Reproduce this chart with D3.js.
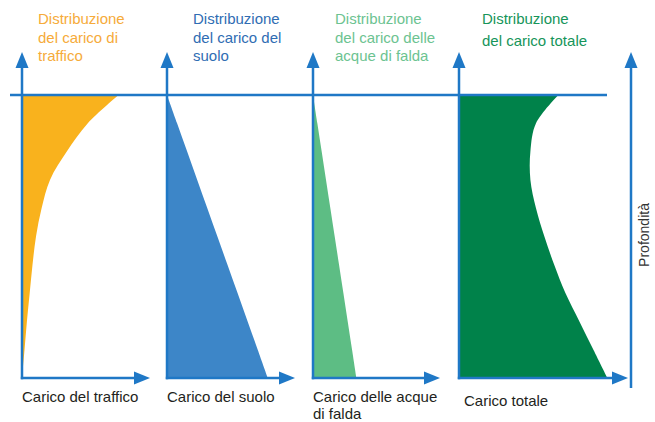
<!DOCTYPE html>
<html>
<head>
<meta charset="utf-8">
<script src="https://cdn.jsdelivr.net/npm/d3@7"></script>
<style>
  body { margin: 0; background: #fff; }
  text { font-family: "Liberation Sans", Arial, sans-serif; }
</style>
</head>
<body>
<svg id="chart" width="655" height="422"></svg>
<script>
// depth as fraction of the total depth (0 = top line, 1 = bottom)
const depth = [0, 0.1, 0.2, 0.3, 0.4, 0.5, 0.6, 0.7, 0.8, 0.9, 1.0];

// load values (relative units) at each depth
const trafficLoad = [69, 47, 32, 20, 14, 10, 7.5, 5.5, 3.5, 1.8, 0];
const soilLoad    = [0, 7.2, 14.4, 21.6, 28.8, 36, 43.2, 50.4, 57.6, 64.8, 72];
const waterLoad   = [0, 3.1, 6.2, 9.3, 12.4, 15.5, 18.6, 21.7, 24.8, 27.9, 31];
const totalLoad   = [71, 55, 51, 51, 55, 61, 68, 76, 86, 96, 106];

const titles = [
  ["Distribuzione", "del carico di", "traffico"],
  ["Distribuzione", "del carico del", "suolo"],
  ["Distribuzione", "del carico delle", "acque di falda"],
  ["Distribuzione", "del carico totale"]
];
const xLabels = [
  ["Carico del traffico"],
  ["Carico del suolo"],
  ["Carico delle acque", "di falda"],
  ["Carico totale"]
];
const depthLabel = "Profondità";

const panels = [
  { load: trafficLoad, fill: "#f9b21d", title: "#f6ab3a", origin: 22,  tip: 150, tx: 38,  ty: 24, lh: 18.5, ly: 402 },
  { load: soilLoad,    fill: "#3d86c8", title: "#2f6db3", origin: 167, tip: 295, tx: 193, ty: 24, lh: 18.5, ly: 402 },
  { load: waterLoad,   fill: "#5dbd84", title: "#6cc391", origin: 313, tip: 440, tx: 335, ty: 24, lh: 18.5, ly: 402 },
  { load: totalLoad,   fill: "#00824a", title: "#16955a", origin: 459, tip: 628, tx: 482, ty: 24, lh: 22,   ly: 406 }
];

const axisColor = "#1f78c6";
const topY = 95, bottomY = 378, arrowTopY = 52;

const svg = d3.select("#chart");
const y = d3.scaleLinear().domain([0, 1]).range([topY, bottomY]);

// filled load distributions
panels.forEach(p => {
  const x = d3.scaleLinear().domain([0, 100]).range([p.origin, p.origin + 140]);
  const area = d3.area()
    .y((d, i) => y(depth[i]))
    .x0(x(0))
    .x1(d => x(d))
    .curve(d3.curveCatmullRom.alpha(0.5));
  svg.append("path")
    .datum(p.load)
    .attr("d", area)
    .attr("fill", p.fill);
});

// top horizontal line
svg.append("line")
  .attr("x1", 10).attr("x2", 607)
  .attr("y1", topY).attr("y2", topY)
  .attr("stroke", axisColor).attr("stroke-width", 2.5);

function upArrow(x0, yTip) {
  svg.append("path")
    .attr("d", `M${x0},${yTip} L${x0 - 6.5},${yTip + 16} L${x0 + 6.5},${yTip + 16} Z`)
    .attr("fill", axisColor);
}
function rightArrow(xTip, y0) {
  svg.append("path")
    .attr("d", `M${xTip},${y0} L${xTip - 16},${y0 - 6.5} L${xTip - 16},${y0 + 6.5} Z`)
    .attr("fill", axisColor);
}

// panel axes
panels.forEach(p => {
  svg.append("line")
    .attr("x1", p.origin).attr("x2", p.origin)
    .attr("y1", bottomY + 1.2).attr("y2", arrowTopY + 12)
    .attr("stroke", axisColor).attr("stroke-width", 2.5);
  upArrow(p.origin, arrowTopY);
  svg.append("line")
    .attr("x1", p.origin - 1.2).attr("x2", p.tip - 12)
    .attr("y1", bottomY).attr("y2", bottomY)
    .attr("stroke", axisColor).attr("stroke-width", 2.5);
  rightArrow(p.tip, bottomY);
});

// depth axis on the right
svg.append("line")
  .attr("x1", 631).attr("x2", 631)
  .attr("y1", 388).attr("y2", arrowTopY + 12)
  .attr("stroke", axisColor).attr("stroke-width", 2.5);
upArrow(631, arrowTopY);

// titles
panels.forEach((p, i) => {
  const t = svg.append("text")
    .attr("x", p.tx).attr("y", p.ty)
    .attr("font-size", 15)
    .attr("fill", p.title);
  titles[i].forEach((line, k) => {
    t.append("tspan").attr("x", p.tx).attr("y", p.ty + k * p.lh).text(line);
  });
});

// x labels
panels.forEach((p, i) => {
  const t = svg.append("text")
    .attr("x", p.origin).attr("y", p.ly)
    .attr("font-size", 15)
    .attr("fill", "#231f20");
  xLabels[i].forEach((line, k) => {
    t.append("tspan").attr("x", p.origin + (i === 3 ? 5 : 0)).attr("y", p.ly + k * 17).text(line);
  });
});

svg.append("text")
  .attr("transform", "translate(649,235) rotate(-90)")
  .attr("text-anchor", "middle")
  .attr("font-size", 14)
  .attr("fill", "#333")
  .text(depthLabel);
</script>
</body>
</html>
